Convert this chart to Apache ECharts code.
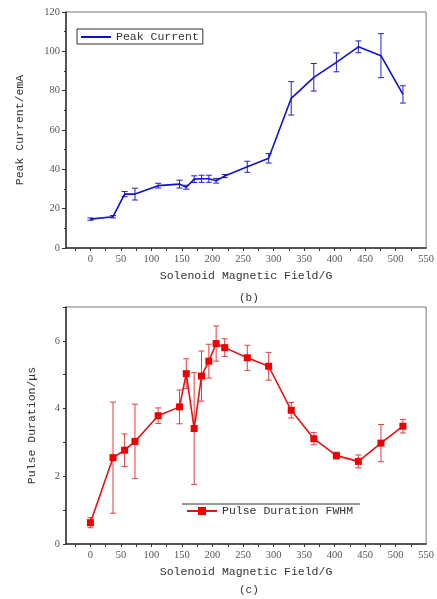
<!DOCTYPE html>
<html>
<head>
<meta charset="utf-8">
<script src="https://cdn.jsdelivr.net/npm/echarts@6/dist/echarts.min.js"></script>
<style>
  html, body { margin: 0; padding: 0; background: #fff; }
  #chart { width: 437px; height: 599px; }
</style>
</head>
<body>
<div id="chart"></div>
<script>
// solenoid field (G), shared by both panels
const fieldG = [0, 37, 56, 73, 111, 146, 157, 170, 182, 194, 206, 220, 257, 292, 329, 366, 403, 439, 476, 512]

// (b) peak current, emA
const peakCurrent = [14.7, 15.9, 27.4, 27.4, 31.7, 32.5, 30.9, 35.0, 35.2, 35.2, 34.2, 36.6, 41.3, 45.6, 76.1, 86.8, 94.4, 102.3, 97.8, 78.1]
const peakErr = [0.6, 0.6, 1.3, 3.0, 1.2, 2.0, 1.0, 1.7, 1.8, 1.8, 1.2, 0.8, 2.8, 2.4, 8.5, 7.0, 4.8, 3.0, 11.2, 4.4]

// (c) pulse duration FWHM, us
const pulseWidth = [0.63, 2.55, 2.77, 3.03, 3.79, 4.05, 5.03, 3.41, 4.96, 5.40, 5.92, 5.80, 5.50, 5.25, 3.95, 3.11, 2.61, 2.44, 2.98, 3.48]
const pulseErr = [0.15, 1.64, 0.48, 1.10, 0.23, 0.50, 0.44, 1.65, 0.74, 0.50, 0.52, 0.26, 0.37, 0.41, 0.23, 0.18, 0.10, 0.19, 0.55, 0.20]

// tick labels
const xLabels = [0, 50, 100, 150, 200, 250, 300, 350, 400, 450, 500, 550]
const xTicks = [-25, 0, 25, 50, 75, 100, 125, 150, 175, 200, 225, 250, 275, 300, 325, 350, 375, 400, 425, 450, 475, 500, 525]
const pulseLabels = [0, 2, 4, 6]
const pulseTicks = [0, 1, 2, 3, 4, 5, 6, 7]

const monoFont = 'Liberation Mono'
const numFont = 'Liberation Serif'

function lineData(ys) {
  return fieldG.map((x, i) => [x, ys[i]])
}
function errData(ys, errs) {
  return fieldG.map((x, i) => [x, ys[i] - errs[i], ys[i] + errs[i]])
}

function errorBar(color) {
  return function (params, api) {
    const x = api.value(0)
    const lo = api.coord([x, api.value(1)])
    const hi = api.coord([x, api.value(2)])
    const cap = 3
    const style = { stroke: color, lineWidth: 1 }
    return {
      type: 'group',
      children: [
        { type: 'line', shape: { x1: lo[0], y1: lo[1], x2: hi[0], y2: hi[1] }, style },
        { type: 'line', shape: { x1: lo[0] - cap, y1: lo[1], x2: lo[0] + cap, y2: lo[1] }, style },
        { type: 'line', shape: { x1: hi[0] - cap, y1: hi[1], x2: hi[0] + cap, y2: hi[1] }, style }
      ]
    }
  }
}

function xAxisOf(gridIndex) {
  return {
    type: 'value',
    gridIndex,
    min: -40,
    max: 550,
    name: 'Solenoid Magnetic Field/G',
    nameLocation: 'middle',
    nameGap: 22,
    nameTextStyle: { fontFamily: monoFont, fontSize: 11.5, color: '#333' },
    axisLine: { onZero: false, lineStyle: { color: '#333', width: 1.5 } },
    axisTick: { customValues: xTicks, length: 3, lineStyle: { color: '#333' } },
    axisLabel: { customValues: xLabels, fontFamily: numFont, fontSize: 10.5, color: '#555', margin: 6 },
    splitLine: { show: false }
  }
}

const chart = echarts.init(document.getElementById('chart'))

chart.setOption({
  animation: false,
  backgroundColor: '#fff',
  title: [
    { text: '(b)', left: 234, top: 288, textStyle: { fontFamily: monoFont, fontSize: 11, fontWeight: 'normal', color: '#333' } },
    { text: '(c)', left: 234, top: 580, textStyle: { fontFamily: monoFont, fontSize: 11, fontWeight: 'normal', color: '#333' } }
  ],
  grid: [
    { left: 66, right: 10, top: 12, height: 236, show: true, borderColor: '#777', borderWidth: 1 },
    { left: 66, right: 10, top: 307, height: 237, show: true, borderColor: '#777', borderWidth: 1 }
  ],
  legend: [
    {
      data: [{ name: 'Peak Current', icon: 'path://M0,0h30v2h-30z' }],
      left: 77, top: 29,
      padding: [2, 4, 1, 4],
      borderColor: '#333', borderWidth: 1,
      itemWidth: 30, itemHeight: 2,
      textStyle: { fontFamily: monoFont, fontSize: 11.5, color: '#333' }
    },
    {
      data: ['Pulse Duration FWHM'],
      left: 184, top: 505,
      padding: [0, 2, 0, 2],
      itemWidth: 30, itemHeight: 10,
      textStyle: { fontFamily: monoFont, fontSize: 11.5, color: '#333' }
    }
  ],
  graphic: [
    { type: 'line', shape: { x1: 182, y1: 504, x2: 360, y2: 504 }, style: { stroke: '#333', lineWidth: 1 } }
  ],
  xAxis: [xAxisOf(0), xAxisOf(1)],
  yAxis: [
    {
      type: 'value',
      gridIndex: 0,
      min: 0, max: 120, interval: 20,
      name: 'Peak Current/emA',
      nameLocation: 'middle',
      nameGap: 40,
      nameTextStyle: { fontFamily: monoFont, fontSize: 11.5, color: '#333' },
      axisLine: { show: true, onZero: false, lineStyle: { color: '#333', width: 1.5 } },
      axisTick: { show: true, length: 4, lineStyle: { color: '#333' } },
      minorTick: { show: true, splitNumber: 2, length: 2, lineStyle: { color: '#333' } },
      axisLabel: { fontFamily: numFont, fontSize: 10.5, color: '#555', margin: 6 },
      splitLine: { show: false }
    },
    {
      type: 'value',
      gridIndex: 1,
      min: 0, max: 7,
      name: 'Pulse Duration/\u03bcs',
      nameLocation: 'middle',
      nameGap: 28,
      nameTextStyle: { fontFamily: monoFont, fontSize: 11.5, color: '#333' },
      axisLine: { show: true, onZero: false, lineStyle: { color: '#333', width: 1.5 } },
      axisTick: { show: true, customValues: pulseTicks, length: 3, lineStyle: { color: '#333' } },
      axisLabel: { customValues: pulseLabels, fontFamily: numFont, fontSize: 10.5, color: '#555', margin: 6 },
      splitLine: { show: false }
    }
  ],
  series: [
    {
      name: 'Peak Current',
      type: 'line',
      xAxisIndex: 0, yAxisIndex: 0,
      data: lineData(peakCurrent),
      symbol: 'none',
      lineStyle: { color: '#1010d0', width: 1.6 },
      itemStyle: { color: '#1010d0' },
      z: 3
    },
    {
      name: 'peakErr',
      type: 'custom',
      xAxisIndex: 0, yAxisIndex: 0,
      data: errData(peakCurrent, peakErr),
      encode: { x: 0, y: [1, 2] },
      renderItem: errorBar('#2020d0'),
      z: 2
    },
    {
      name: 'Pulse Duration FWHM',
      type: 'line',
      xAxisIndex: 1, yAxisIndex: 1,
      data: lineData(pulseWidth),
      symbol: 'rect',
      symbolSize: 7,
      lineStyle: { color: '#e81010', width: 1.6 },
      itemStyle: { color: '#f00000' },
      z: 3
    },
    {
      name: 'pulseErr',
      type: 'custom',
      xAxisIndex: 1, yAxisIndex: 1,
      data: errData(pulseWidth, pulseErr),
      encode: { x: 0, y: [1, 2] },
      renderItem: errorBar('#e04040'),
      z: 2
    }
  ]
})
</script>
</body>
</html>
